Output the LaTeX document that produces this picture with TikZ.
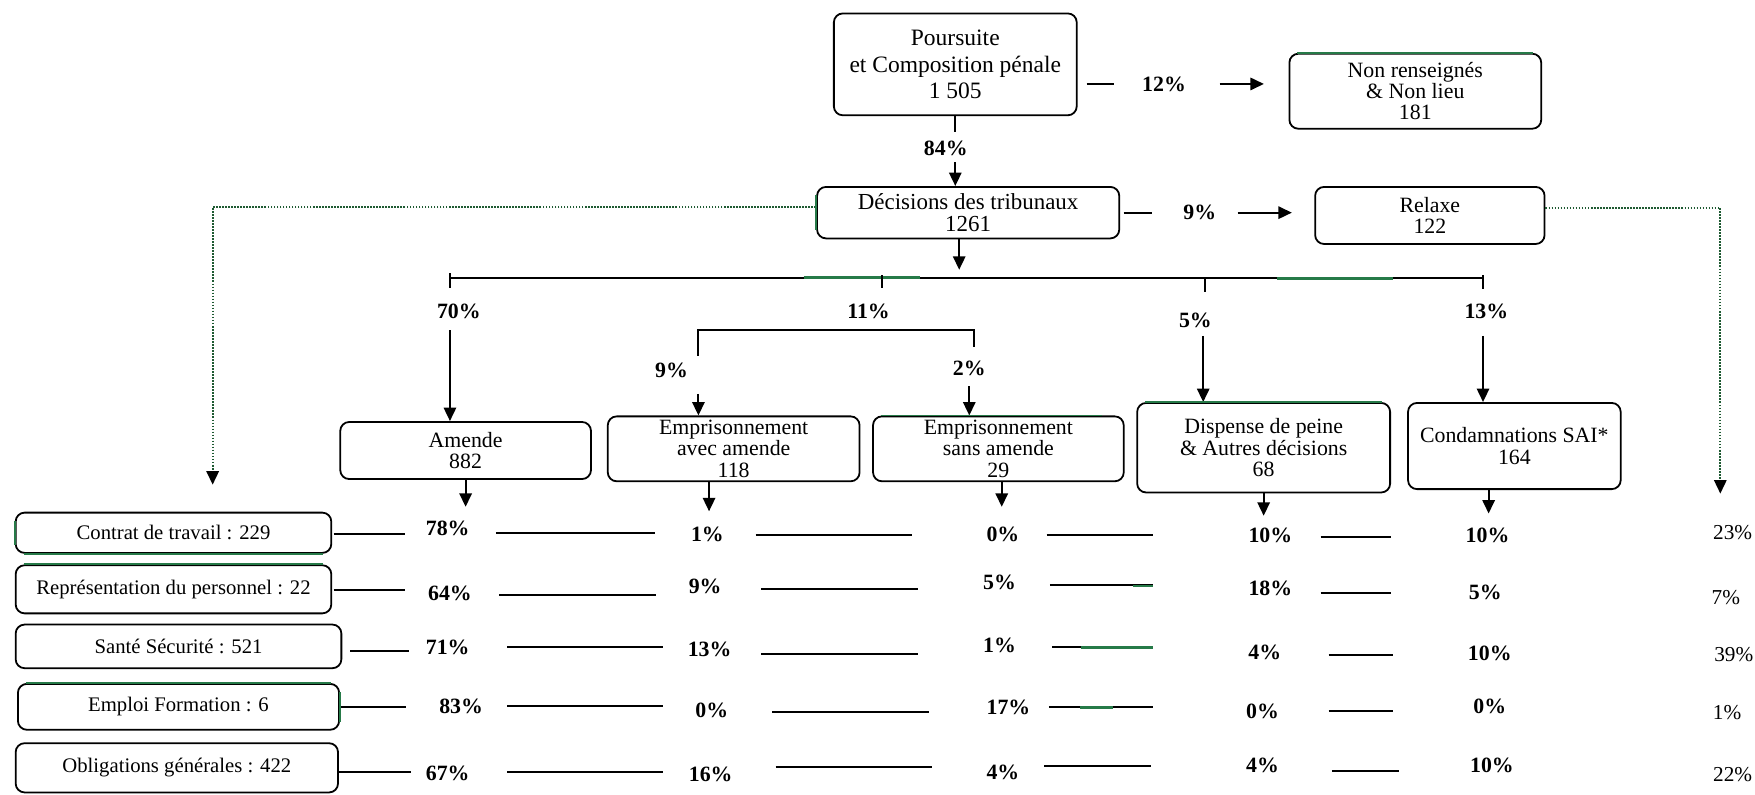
\documentclass[tikz,border=0pt]{standalone}
\usepackage{fontspec}
\setmainfont{Liberation Serif}
\usetikzlibrary{arrows.meta,calc}
\definecolor{dgreen}{RGB}{38,122,72}
\definecolor{dotgreen}{RGB}{30,90,50}

\begin{document}
\begin{tikzpicture}[x=1pt,y=-1pt,
  box/.style={draw, rounded corners=8pt, line width=1.6pt, align=center, inner sep=0pt},
  big/.style={font=\fontsize{21}{23.5}\selectfont},
  mid/.style={font=\fontsize{19.5}{19}\selectfont},
  cat/.style={font=\fontsize{18.5}{20}\selectfont},
  pct/.style={font=\bfseries\fontsize{19.5}{20}\selectfont, inner sep=0pt},
  share/.style={font=\fontsize{19}{20}\selectfont, inner sep=0pt},
  conn/.style={line width=1.8pt},
  greenpart/.style={line width=2.3pt, dgreen},
  greenedge/.style={line width=1.6pt, dgreen},
  arr/.style={line width=1.8pt, -{Triangle[width=11pt,length=12pt]}},
  dotline/.style={line width=1.7pt, dash pattern=on 1.5pt off 1.2pt, dotgreen,
                  -{Triangle[width=11pt,length=12pt,black]}},
]
\useasboundingbox (0,0) rectangle (1568,710);

% ---- upper part: prosecution and court decisions
\node[box,big,minimum width=217pt,minimum height=91pt] (pours) at (853.5,57.5)
  {Poursuite\\et Composition pénale\\1 505};
\node[box,mid,minimum width=225pt,minimum height=67pt] (nonren) at (1264.5,81.5)
  {Non renseignés\\\& Non lieu\\181};
\node[box,font=\fontsize{20.5}{19}\selectfont,minimum width=270pt,minimum height=46pt] (decis) at (865,190)
  {Décisions des tribunaux\\1261};
\node[box,mid,minimum width=205pt,minimum height=51pt] (relaxe) at (1277.5,192.5)
  {Relaxe\\122};

\node[pct] (p12) at (1040,75) {12\%};
\node[pct] (p84) at (845,133) {84\%};
\node[pct] (p9)  at (1072,190) {9\%};

\draw[conn] ([xshift=8pt]pours.east |- p12) -- ([xshift=-25pt]p12.west);
\draw[arr] ([xshift=30pt]p12.east) -- ([xshift=-22pt]p12 -| nonren.west);
\draw[conn, shorten >=15pt] (pours.south) -- (pours.south |- p84);
\draw[arr, shorten <=12pt] (pours.south |- p84) -- (pours.south |- decis.north);
\draw[conn] ([xshift=3pt]decis.east |- p9) -- ([xshift=-28pt]p9.west);
\draw[arr] ([xshift=19pt]p9.east) -- ([xshift=-20pt]p9 -| relaxe.west);

% dotted returns to the outer columns
\coordinate (ldrop) at (190,433);
\coordinate (rdrop) at (1537,441);
\draw[dotline] ([yshift=5pt]decis.west) -| (ldrop);
\draw[dotline] ([yshift=7pt]relaxe.east) -| (rdrop);

% ---- branching bar
\coordinate (b70) at (402,248);
\coordinate (b11) at (788,248);
\coordinate (b5)  at (1077,248);
\coordinate (b13) at (1325,248);
\draw[arr, shorten >=7pt] ([xshift=-8pt]decis.south) -- ([xshift=-8pt]decis.south |- b70);
\draw[conn] (b70) -- (b13);
\draw[greenpart] (718,248) -- (822,248);
\draw[greenpart] (1141,249) -- (1245,249);
\draw[conn] ([yshift=4pt]b70) -- ([yshift=-9pt]b70);
\draw[conn] ([yshift=2pt]b11) -- ([yshift=-9pt]b11);
\draw[conn] (b5) -- ([yshift=-13pt]b5);
\draw[conn] ([yshift=2pt]b13) -- ([yshift=-10pt]b13);

\node[pct] (p70) at (410,278) {70\%};
\node[pct] (p11) at (776,278) {11\%};
\node[pct] (p5)  at (1068,286) {5\%};
\node[pct] (p13) at (1328,278) {13\%};

% ---- sentence boxes
\node[box,mid,minimum width=224pt,minimum height=51pt] (amende) at (416,402.5)
  {Amende\\882};
\node[box,mid,minimum width=225pt,minimum height=58pt] (empavec) at (655.5,401)
  {Emprisonnement\\avec amende\\118};
\node[box,mid,minimum width=224pt,minimum height=58pt] (empsans) at (892,401)
  {Emprisonnement\\sans amende\\29};
\node[box,mid,minimum width=226pt,minimum height=80pt] (dispense) at (1129,400)
  {Dispense de peine\\\& Autres décisions\\68};
\node[box,font=\fontsize{19.5}{20}\selectfont,minimum width=190pt,minimum height=77pt] (condam) at (1353,398.5)
  {Condamnations SAI*\\164};

% imprisonment split
\coordinate (k9) at (624,295);
\coordinate (k2) at (870,295);
\draw[conn] ([yshift=-23pt]k9) -- (k9) -- (k2) -- ([yshift=-15pt]k2);
\node[pct] (p9b) at (600,331) {9\%};
\node[pct] (p2)  at (866,329) {2\%};

\coordinate (a70) at (402,295);
\coordinate (a9)  at (624,352);
\coordinate (a2)  at (866,345);
\coordinate (a5)  at (1075,300);
\coordinate (a13) at (1325,300);
\draw[arr] (a70) -- (a70 |- amende.north);
\draw[arr] (a9) -- (a9 |- empavec.north);
\draw[arr] (a2) -- (a2 |- empsans.north);
\draw[arr] (a5) -- (a5 |- dispense.north);
\draw[arr] (a13) -- (a13 |- condam.north);

% arrows down to the breakdown table
\draw[arr] (amende.south) -- ++(0,24);
\draw[arr] ([xshift=-22pt]empavec.south) -- ++(0,26);
\draw[arr] ([xshift=3pt]empsans.south) -- ++(0,22);
\draw[arr] (dispense.south) -- ++(0,20);
\draw[arr] ([xshift=-23pt]condam.south) -- ++(0,21);

% ---- breakdown by domain
\node[box,cat,minimum width=282pt,minimum height=36pt] (cat1) at (155,476) {Contrat de travail : 229};
\node[box,cat,minimum width=282pt,minimum height=43pt] (cat2) at (155,526.5) {Représentation du personnel : 22};
\node[box,cat,minimum width=291pt,minimum height=39pt] (cat3) at (159.5,577.5) {Santé Sécurité : 521};
\node[box,cat,minimum width=287pt,minimum height=41pt] (cat4) at (159.5,631.5) {Emploi Formation : 6};
\node[box,cat,minimum width=288pt,minimum height=44pt] (cat5) at (158,686) {Obligations générales : 422};

% green-tinted edges of some frames
\draw[greenedge] ([yshift=-8pt]cat1.north west) -- ([yshift=8pt]cat1.south west);
\draw[greenedge] ([xshift=8pt]cat1.south west) -- ([xshift=-8pt]cat1.south east);
\draw[greenedge] ([xshift=8pt]cat2.north west) -- ([xshift=-8pt]cat2.north east);
\draw[greenedge] ([xshift=8pt]cat4.north west) -- ([xshift=-8pt]cat4.north east);
\draw[greenedge] ([yshift=-8pt]cat4.north east) -- ([yshift=8pt]cat4.south east);
\draw[greenedge] ([xshift=8pt]nonren.north west) -- ([xshift=-8pt]nonren.north east);
\draw[greenedge] ([yshift=-8pt]decis.north west) -- ([yshift=8pt]decis.south west);
\draw[greenedge] ([xshift=8pt]empsans.north west) -- ([xshift=-20pt]empsans.north east);
\draw[greenedge] ([xshift=8pt]dispense.north west) -- ([xshift=-8pt]dispense.north east);

% row 1
\node[pct] (r1a) at (400,472) {78\%};
\node[pct] (r1b) at (632,477) {1\%};
\node[pct] (r1c) at (896,477) {0\%};
\node[pct] (r1d) at (1135,478) {10\%};
\node[pct] (r1e) at (1329,478) {10\%};
\node[share] (r1f) at (1548,476) {23\%};
\draw[conn] (298,477)--(362,477) (443,476)--(585,476) (675,478)--(815,478)
            (935,478)--(1030,478) (1180,480)--(1243,480);
% row 2
\node[pct] (r2a) at (402,530) {64\%};
\node[pct] (r2b) at (630,524) {9\%};
\node[pct] (r2c) at (893,520) {5\%};
\node[pct] (r2d) at (1135,526) {18\%};
\node[pct] (r2e) at (1327,529) {5\%};
\node[share] (r2f) at (1542,534) {7\%};
\draw[conn] (298,527)--(362,527) (446,532)--(586,532) (680,526)--(820,526)
            (938,523)--(1030,523) (1180,530)--(1243,530);
\draw[greenpart] (1012,523.5)--(1030,523.5);
% row 3
\node[pct] (r3a) at (400,578) {71\%};
\node[pct] (r3b) at (634,580) {13\%};
\node[pct] (r3c) at (893,577) {1\%};
\node[pct] (r3d) at (1130,583) {4\%};
\node[pct] (r3e) at (1331,584) {10\%};
\node[share] (r3f) at (1549,585) {39\%};
\draw[conn] (313,582)--(365,582) (453,578)--(592,578) (680,584)--(820,584)
            (940,578)--(1030,578) (1187,585)--(1245,585);
\draw[greenpart] (966,578.5)--(1030,578.5);
% row 4
\node[pct] (r4a) at (412,631) {83\%};
\node[pct] (r4b) at (636,635) {0\%};
\node[pct] (r4c) at (901,632) {17\%};
\node[pct] (r4d) at (1128,636) {0\%};
\node[pct] (r4e) at (1331,631) {0\%};
\node[share] (r4f) at (1543,637) {1\%};
\draw[conn] (305,632)--(363,632) (453,631)--(592,631) (690,636)--(830,636)
            (937,632)--(1030,632) (1187,635)--(1245,635);
\draw[greenpart] (965,632)--(994,632);
% row 5
\node[pct] (r5a) at (400,691) {67\%};
\node[pct] (r5b) at (635,692) {16\%};
\node[pct] (r5c) at (896,690) {4\%};
\node[pct] (r5d) at (1128,684) {4\%};
\node[pct] (r5e) at (1333,684) {10\%};
\node[share] (r5f) at (1548,692) {22\%};
\draw[conn] (303,690)--(367,690) (453,690)--(592,690) (693,685)--(833,685)
            (933,684)--(1028,684) (1190,689)--(1250,689);
\end{tikzpicture}
\end{document}
